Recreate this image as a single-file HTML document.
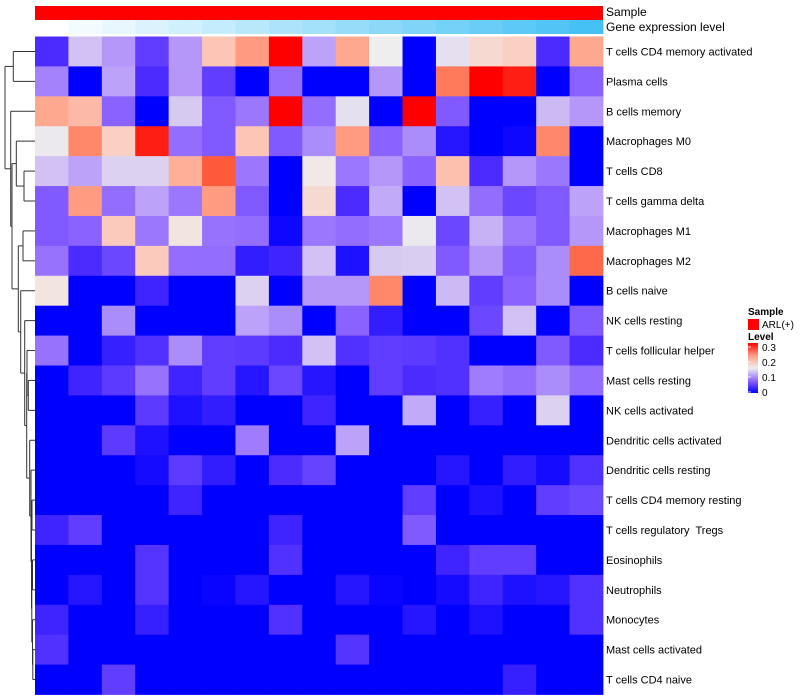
<!DOCTYPE html>
<html><head><meta charset="utf-8">
<style>
body{margin:0;background:#fff;}
svg{display:block;font-family:"Liberation Sans",sans-serif;}
</style></head>
<body>
<svg id="chart" width="800" height="700" viewBox="0 0 800 700" xmlns="http://www.w3.org/2000/svg">
<g id="cells"></g>
<g id="annot"></g>
<g id="dendro"></g>
<g id="labels"></g>
<text x="606" y="16" font-size="12">Sample</text>
<text x="606" y="31" font-size="12">Gene expression level</text>
<g>
<text x="748" y="315" font-size="10" font-weight="bold">Sample</text>
<rect x="748" y="319" width="11" height="11" fill="#ff0000"/>
<text x="762" y="328" font-size="10">ARL(+)</text>
<text x="748" y="340" font-size="10" font-weight="bold">Level</text>
<defs><linearGradient id="lg" x1="0" y1="1" x2="0" y2="0">
<stop offset="0" stop-color="#0000ff"/><stop offset="0.25" stop-color="#9068ff"/><stop offset="0.5" stop-color="#eeeeee"/><stop offset="0.75" stop-color="#ff9c80"/><stop offset="1" stop-color="#ff0000"/></linearGradient></defs>
<rect x="748" y="343" width="10" height="50" fill="url(#lg)"/>
<g id="legticks"></g>
</g>
</svg>
<script>
const rowNames = ["T cells CD4 memory activated","Plasma cells","B cells memory","Macrophages M0","T cells CD8","T cells gamma delta","Macrophages M1","Macrophages M2","B cells naive","NK cells resting","T cells follicular helper","Mast cells resting","NK cells activated","Dendritic cells activated","Dendritic cells resting","T cells CD4 memory resting","T cells regulatory  Tregs","Eosinophils","Neutrophils","Monocytes","Mast cells activated","T cells CD4 naive"];
const r01 = [0.03,0.11,0.085,0.04,0.085,0.19,0.225,0.3,0.09,0.215,0.15,0,0.135,0.17,0.18,0.03,0.215];
const r02 = [0.075,0,0.09,0.03,0.085,0.04,0,0.065,0,0,0.085,0,0.25,0.3,0.29,0,0.06];
const r03 = [0.215,0.2,0.06,0,0.115,0.055,0.07,0.3,0.065,0.135,0,0.3,0.055,0,0,0.105,0.085];
const r04 = [0.145,0.24,0.18,0.29,0.065,0.055,0.19,0.055,0.08,0.225,0.06,0.08,0.015,0,0.005,0.24,0];
const r05 = [0.11,0.09,0.12,0.12,0.21,0.27,0.07,0,0.155,0.07,0.085,0.06,0.195,0.03,0.085,0.07,0];
const r06 = [0.055,0.225,0.065,0.09,0.07,0.225,0.055,0,0.17,0.03,0.095,0,0.11,0.065,0.045,0.055,0.09];
const r07 = [0.055,0.06,0.185,0.07,0.16,0.068,0.065,0.005,0.07,0.065,0.07,0.145,0.045,0.1,0.07,0.055,0.085];
const r08 = [0.068,0.03,0.045,0.185,0.065,0.065,0.02,0.025,0.11,0.012,0.115,0.117,0.055,0.085,0.055,0.08,0.26];
const r09 = [0.16,0,0,0.025,0,0,0.12,0,0.085,0.085,0.24,0,0.105,0.04,0.06,0.08,0];
const r10 = [0,0,0.08,0,0,0,0.09,0.08,0,0.06,0.02,0,0,0.045,0.11,0,0.055];
const r11 = [0.068,0,0.022,0.033,0.08,0.04,0.038,0.03,0.11,0.033,0.04,0.038,0.033,0,0,0.055,0.03];
const r12 = [0,0.025,0.038,0.068,0.025,0.04,0.015,0.045,0.015,0,0.04,0.03,0.033,0.072,0.065,0.08,0.065];
const r13 = [0,0,0,0.038,0.012,0.02,0,0,0.025,0,0,0.095,0,0.022,0,0.12,0];
const r14 = [0,0,0.038,0.012,0,0,0.072,0,0,0.09,0,0,0,0,0,0,0];
const r15 = [0,0,0,0.008,0.038,0.02,0,0.03,0.043,0,0,0,0.015,0,0.02,0.008,0.033];
const r16 = [0,0,0,0,0.025,0,0,0,0,0,0,0.04,0,0.012,0,0.04,0.045];
const r17 = [0.025,0.04,0,0,0,0,0,0.025,0,0,0,0.055,0,0,0,0,0];
const r18 = [0,0,0,0.035,0,0,0,0.033,0,0,0,0,0.025,0.04,0.04,0,0];
const r19 = [0,0.015,0,0.035,0,0.003,0.015,0,0,0.015,0.003,0,0.008,0.025,0.012,0.015,0.033];
const r20 = [0.025,0,0,0.022,0,0,0,0.033,0,0,0,0.015,0,0.012,0,0,0.033];
const r21 = [0.033,0,0,0,0,0,0,0,0,0.035,0,0,0,0,0,0,0];
const r22 = [0,0,0.04,0,0,0,0,0,0,0,0,0,0,0,0.022,0,0];
const values = [r01,r02,r03,r04,r05,r06,r07,r08,r09,r10,r11,r12,r13,r14,r15,r16,r17,r18,r19,r20,r21,r22];
const geneLevel = [0,1,2,3,4,5,6,7,8,9,10,11,12,13,14,15,16];
const legendTicks = [0,0.1,0.2,0.3];

const NS="http://www.w3.org/2000/svg";
const X0=35, X1=603, Y0=36.5, Y1=694.5;
const nC=geneLevel.length, nR=rowNames.length;
const cw=(X1-X0)/nC, rh=(Y1-Y0)/nR;
function xPos(i){return X0+i*cw;}
function yPos(j){return Y0+j*rh;}
const stops=[[0,[0,0,255]],[0.03,[75,43,255]],[0.06,[138,98,255]],[0.09,[188,162,248]],[0.12,[220,210,240]],[0.15,[238,238,238]],[0.18,[250,208,196]],[0.21,[255,174,152]],[0.24,[255,136,106]],[0.27,[255,90,60]],[0.3,[255,0,0]]];
function colorOf(v){
  v=Math.max(0,Math.min(0.3,v));
  for(let k=0;k<stops.length-1;k++){
    const [a,ca]=stops[k],[b,cb]=stops[k+1];
    if(v<=b){const t=(v-a)/(b-a);return "rgb("+ca.map((c,i)=>Math.round(c+(cb[i]-c)*t)).join(",")+")";}
  }
  return "rgb(255,0,0)";
}
function mk(tag,attrs,parent){const e=document.createElementNS(NS,tag);for(const k in attrs)e.setAttribute(k,attrs[k]);parent.appendChild(e);return e;}
const cells=document.getElementById("cells");
values.forEach((row,j)=>{row.forEach((v,i)=>{
  const r=mk("rect",{x:xPos(i),y:yPos(j),width:cw+0.4,height:rh+0.4,fill:colorOf(v)},cells);
  
  
});});
const annot=document.getElementById("annot");
const sb=mk("rect",{x:X0,y:6,width:X1-X0,height:14,fill:"#ff0000"},annot);


const maxL=Math.max(...geneLevel);
geneLevel.forEach((g,i)=>{
  const t=g/maxL;
  const c=[255+(70-255)*t,255+(193-255)*t,255+(245-255)*t].map(Math.round);
  const r=mk("rect",{x:xPos(i),y:20,width:cw+0.4,height:14,fill:"rgb("+c.join(",")+")"},annot);
  
  
});
const labels=document.getElementById("labels");
rowNames.forEach((n,j)=>{
  const t=mk("text",{x:606,y:yPos(j)+rh/2+4,"font-size":"11",fill:"#000"},labels);
  t.setAttribute("xml:space","preserve");
  t.style.whiteSpace="pre";
  t.textContent=n;
  
  
});
const tree=[5,[13.3,0,1],[10.7,2,[12,[16.3,3,[24,4,5]],[18.3,[23,6,7],[20.7,8,[24.7,9,[26.7,[27,10,[28.3,11,12]],[29.7,13,[31,14,[31.5,[32,15,16],[31.8,[32.5,17,18],[32.5,19,[32.8,20,21]]]]]]]]]]]]];
const dg=document.getElementById("dendro");
function line(x1,y1,x2,y2){
  const l=mk("line",{x1,y1,x2,y2,stroke:"#333","stroke-width":"1"},dg);
  
  
}
function draw(n){
  if(typeof n==="number") return {x:X0,y:yPos(n)+rh/2};
  const a=draw(n[1]), b=draw(n[2]), h=n[0];
  line(h,a.y,a.x,a.y); line(h,b.y,b.x,b.y); line(h,a.y,h,b.y);
  return {x:h,y:(a.y+b.y)/2};
}
draw(tree);
const lt=document.getElementById("legticks");
legendTicks.forEach(v=>{
  const y=392-(v/0.3)*45;
  const l=mk("line",{x1:748,x2:751,y1:y,y2:y,stroke:"#fff","stroke-width":"0.8"},lt);
  
  
  const t=mk("text",{x:762,y:y+4,"font-size":"10"},lt);
  t.textContent=String(v);
  
  
});
</script>
</body></html>
